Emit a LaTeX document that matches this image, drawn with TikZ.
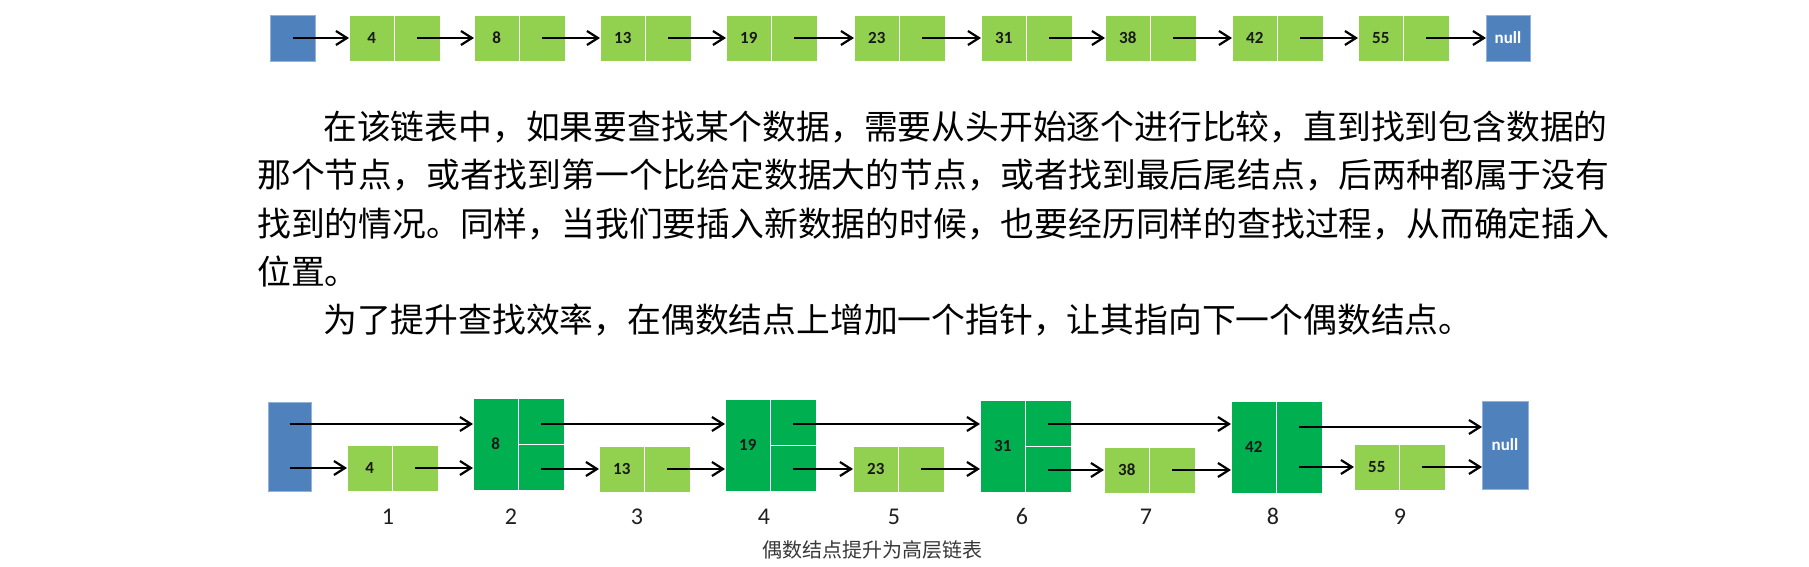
\documentclass[tikz,border=0pt]{standalone}
\usepackage{fontspec}
\setmainfont{Carlito}
\newfontfamily\zhfont{Noto Sans CJK SC}
\newfontfamily\numfont{Carlito}
\usetikzlibrary{arrows.meta}
\definecolor{hblue}{HTML}{4F81BD}
\definecolor{lgreen}{HTML}{92D050}
\definecolor{dgreen}{HTML}{00B050}
\begin{document}
\begin{tikzpicture}[x=1pt,y=-1pt,
  cellbase/.style={draw=white, line width=0.8pt, inner sep=0pt, outer sep=0pt, anchor=north west,
    font=\numfont\bfseries\fontsize{17}{17}\selectfont, text=black!90},
  lcell/.style={cellbase, fill=lgreen, minimum width=45.5pt, minimum height=46pt},
  dcell/.style={cellbase, fill=dgreen, minimum width=45.5pt, minimum height=46pt},
  dtall/.style={cellbase, fill=dgreen, minimum width=45.5pt, minimum height=92pt},
  hbox/.style={cellbase, fill=hblue, draw=hblue!60!white, text=white},
  arr/.style={line width=2.2pt, -{Straight Barb[length=11pt,width=14pt]}},
  zh/.style={font=\zhfont\fontsize{33.8}{33.8}\selectfont, inner sep=0pt, anchor=base west},
  lab/.style={font=\numfont\fontsize{24}{24}\selectfont, text=black!88, inner sep=0pt, anchor=base},
  captext/.style={font=\zhfont\fontsize{20}{20}\selectfont, text=black!78, inner sep=0pt, anchor=base}
]
\useasboundingbox (0,0) rectangle (1809,567);
\fill[white] (0,0) rectangle (1809,567);

% ---------- top row ----------
\node[hbox, minimum width=45pt, minimum height=46pt] (th) at (270,15) {};
\foreach \v/\x [count=\i] in {4/349,8/474,13/600,19/726,23/854,31/981,38/1105,42/1232,55/1358}{
  \node[lcell] (tl\i) at (\x,15) {\v};
  \node[lcell] (tr\i) at (tl\i.north east) {};
}
\node[hbox, minimum width=44pt, minimum height=46pt] (tn) at (1486,15) {null};
\draw[arr] (th.center) -- (tl1.west);
\foreach \i [evaluate=\i as \j using int(\i+1)] in {1,...,8}{
  \draw[arr] (tr\i.center) -- (tl\j.west);
}
\draw[arr] (tr9.center) -- (tn.west);

% ---------- paragraph ----------
\node[zh] (p1) at (323,139.5) {在该链表中，如果要查找某个数据，需要从头开始逐个进行比较，直到找到包含数据的};
\node[zh] (p2) at (257,187.8) {那个节点，或者找到第一个比给定数据大的节点，或者找到最后尾结点，后两种都属于没有};
\node[zh] (p3) at (257,236) {找到的情况。同样，当我们要插入新数据的时候，也要经历同样的查找过程，从而确定插入};
\node[zh] (p4) at (257,284.3) {位置。};
\node[zh] (p5) at (323,332.6) {为了提升查找效率，在偶数结点上增加一个指针，让其指向下一个偶数结点。};

% ---------- bottom row ----------
\node[hbox, minimum width=43pt, minimum height=89pt] (bh) at (268,402) {};
% small nodes
\foreach \n/\v/\x/\y in {1/4/347/445, 3/13/599/446, 5/23/853/446, 7/38/1104/447, 9/55/1354/444}{
  \node[lcell] (b\n l) at (\x,\y) {\v};
  \node[lcell] (b\n r) at (b\n l.north east) {};
}
% tall nodes with split pointer cell
\foreach \n/\v/\x/\y in {2/8/473/398, 4/19/725/399, 6/31/980/400}{
  \node[dtall] (b\n l) at (\x,\y) {\v};
  \node[dcell] (b\n ru) at (b\n l.north east) {};
  \node[dcell] (b\n rd) at (b\n ru.south west) {};
}
\node[dtall] (b8l) at (1231,401) {42};
\node[dtall] (b8r) at (b8l.north east) {};
\node[hbox, minimum width=46pt, minimum height=88pt] (bn) at (1482,401) {null};

\coordinate (up) at (0,424);
\coordinate (upn) at (0,427);

% upper level
\draw[arr] (bh.center |- up) -- (b2l.west |- up);
\draw[arr] (b2ru.center |- up) -- (b4l.west |- up);
\draw[arr] (b4ru.center |- up) -- (b6l.west |- up);
\draw[arr] (b6ru.center |- up) -- (b8l.west |- up);
\draw[arr] (b8r.center |- upn) -- (bn.west |- upn);

% lower level
\draw[arr] (bh.center |- b1l.west) -- (b1l.west);
\draw[arr] (b1r.center) -- (b2l.west |- b1r.center);
\draw[arr] (b2rd.center |- b3l.west) -- (b3l.west);
\draw[arr] (b3r.center) -- (b4l.west |- b3r.center);
\draw[arr] (b4rd.center |- b5l.west) -- (b5l.west);
\draw[arr] (b5r.center) -- (b6l.west |- b5r.center);
\draw[arr] (b6rd.center |- b7l.west) -- (b7l.west);
\draw[arr] (b7r.center) -- (b8l.west |- b7r.center);
\draw[arr] (b8r.center |- b9l.west) -- (b9l.west);
\draw[arr] (b9r.center) -- (bn.west |- b9r.center);

% index labels
\foreach \t/\x in {1/388,2/511,3/637,4/764,5/894,6/1022,7/1146,8/1273,9/1400}{
  \node[lab] (lab\t) at (\x,524.5) {\t};
}

% caption
\node[captext] (caption) at (872,557.6) {偶数结点提升为高层链表};
\end{tikzpicture}
\end{document}
